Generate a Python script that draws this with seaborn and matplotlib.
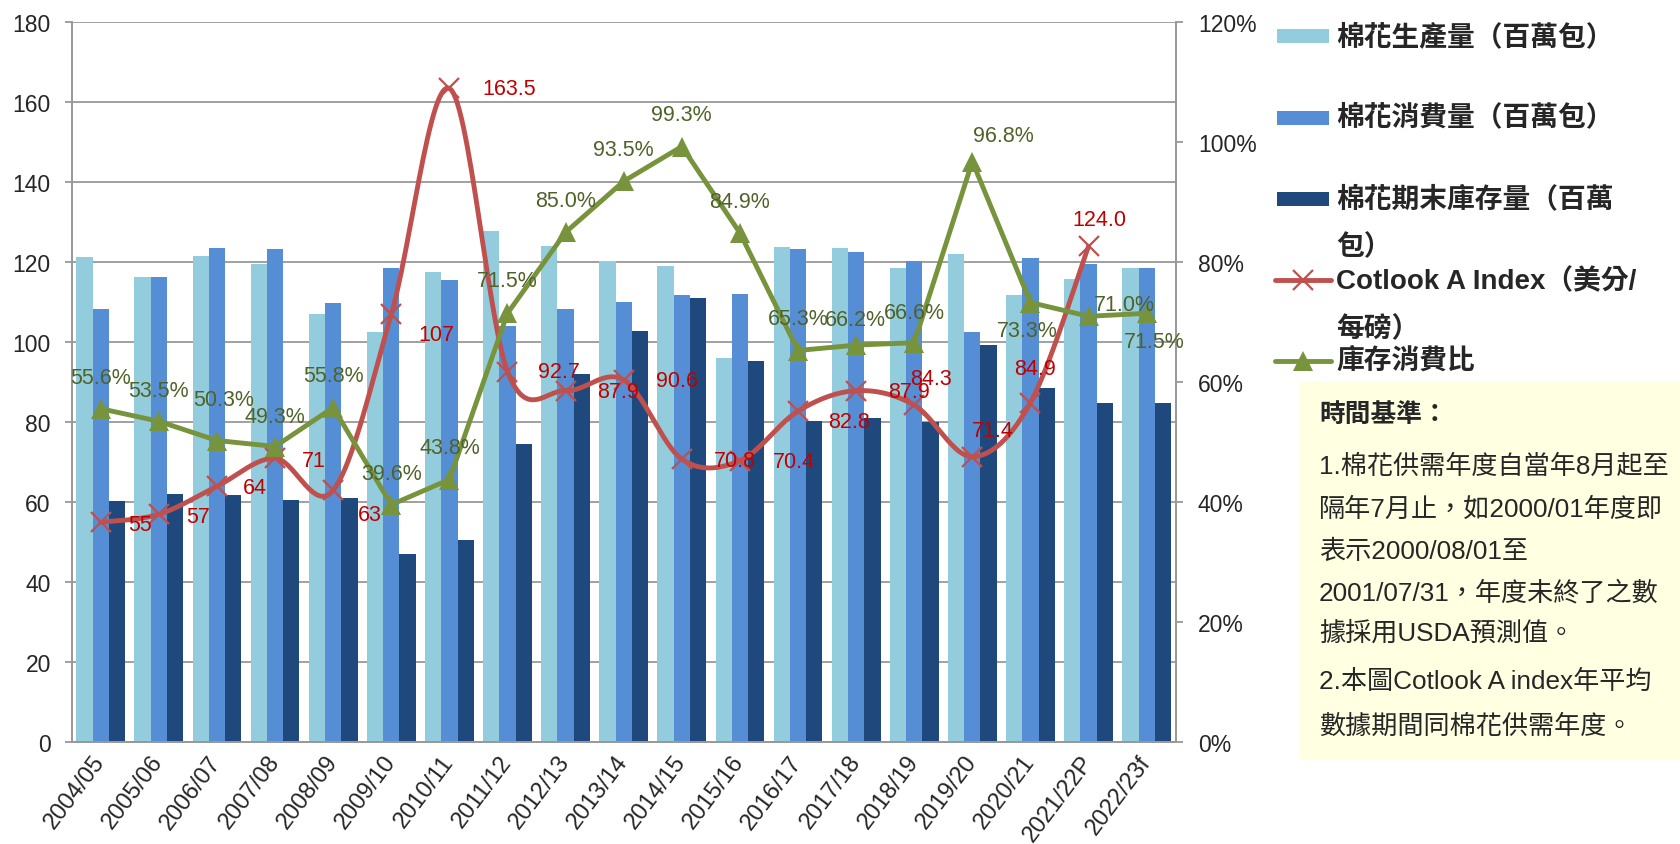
import numpy as np
import pandas as pd
import matplotlib
matplotlib.use("Agg")
import matplotlib.pyplot as plt
from matplotlib.patches import Rectangle
from matplotlib.lines import Line2D
from matplotlib.transforms import ScaledTranslation
import seaborn as sns

# ---- data ----
seasons = ["2004/05", "2005/06", "2006/07", "2007/08", "2008/09", "2009/10",
           "2010/11", "2011/12", "2012/13", "2013/14", "2014/15", "2015/16",
           "2016/17", "2017/18", "2018/19", "2019/20", "2020/21", "2021/22P",
           "2022/23f"]
production = [121.3, 116.4, 121.6, 119.5, 107.0, 102.5, 117.6, 127.8, 124.0, 120.4,
              119.2, 96.1, 123.8, 123.7, 118.7, 122.2, 111.9, 115.9, 118.6]
consumption = [108.4, 116.4, 123.6, 123.4, 109.8, 118.7, 115.5, 104.2, 108.3, 110.0,
               111.8, 112.2, 123.4, 122.7, 120.3, 102.6, 121.1, 119.5, 118.7]
ending_stock = [60.4, 62.2, 61.9, 60.7, 61.2, 47.0, 50.5, 74.5, 92.0, 102.8,
                111.0, 95.3, 80.3, 81.1, 80.0, 99.4, 88.7, 84.8, 84.8]
cotlook = [55, 57, 64, 71, 63, 107, 163.5, 92.7, 87.9, 90.6, 70.8, 70.4,
           82.8, 87.9, 84.3, 71.4, 84.9, 124.0]
stock_ratio = [55.6, 53.5, 50.3, 49.3, 55.8, 39.6, 43.8, 71.5, 85.0, 93.5,
               99.3, 84.9, 65.3, 66.2, 66.6, 96.8, 73.3, 71.0, 71.5]

bar_names = ["棉花生產量（百萬包）", "棉花消費量（百萬包）", "棉花期末庫存量（百萬包）"]
note_title = "時間基準："
note_lines = ["1.棉花供需年度自當年8月起至",
              "隔年7月止，如2000/01年度即",
              "表示2000/08/01至",
              "2001/07/31，年度未終了之數",
              "據採用USDA預測值。",
              "2.本圖Cotlook A index年平均",
              "數據期間同棉花供需年度。"]

# label placement (pixels from marker)
red_offsets = [(27, -2), (27, -2), (26, -1), (27, -2), (25, -24), (27, -20), (33, 0),
               (31, 0), (32, -1), (32, -1), (32, -1), (33, -1), (30, -10), (32, -1),
               (-4, 27), (0, 26), (-16, 34), (-16, 27)]
green_offsets = [(0, 31), (0, 31), (7, 41), (0, 30), (0, 32), (0, 31), (0, 32), (0, 33),
                 (0, 32), (0, 32), (0, 32), (0, 31), (0, 32), (-1, 26), (0, 30),
                 (31, 26), (-3, -28), (36, 12), (8, -28)]

c_prod, c_cons, c_stock = "#93CDDD", "#558ED5", "#1F497D"
c_red, c_red_txt = "#C0504D", "#C00000"
c_green, c_green_txt = "#77933C", "#4F6228"
gray = "#999999"

sns.set_style("white")
plt.rcParams["font.family"] = ["Liberation Sans", "Noto Sans CJK TC", "DejaVu Sans"]


def smooth(xs, ys, n=30):
    # Catmull-Rom style bezier, like spreadsheet "smoothed line"
    xs = np.asarray(xs, float)
    ys = np.asarray(ys, float)
    px = np.concatenate([[xs[0]], xs, [xs[-1]]])
    py = np.concatenate([[ys[0]], ys, [ys[-1]]])
    outx, outy = [], []
    t = np.linspace(0, 1, n)
    for k in range(1, len(px) - 2):
        p0 = np.array([px[k], py[k]])
        p3 = np.array([px[k + 1], py[k + 1]])
        c1 = p0 + (p3 - np.array([px[k - 1], py[k - 1]])) / 6
        c2 = p3 - (np.array([px[k + 2], py[k + 2]]) - p0) / 6
        b = ((1 - t) ** 3)[:, None] * p0 + (3 * (1 - t) ** 2 * t)[:, None] * c1 \
            + (3 * (1 - t) * t ** 2)[:, None] * c2 + (t ** 3)[:, None] * p3
        outx.extend(b[:, 0])
        outy.extend(b[:, 1])
    return np.array(outx), np.array(outy)


W, H = 1681, 845
fig = plt.figure(figsize=(W / 100, H / 100), dpi=100)
x0, x1, y0, y1 = 71.7, 1175.7, 23.3, 743.3
ax = fig.add_axes([x0 / W, 1 - y1 / H, (x1 - x0) / W, (y1 - y0) / H])

df = pd.DataFrame({"season": seasons * 3,
                   "value": production + consumption + ending_stock,
                   "series": [bar_names[0]] * len(seasons) + [bar_names[1]] * len(seasons)
                             + [bar_names[2]] * len(seasons)})
sns.barplot(data=df, x="season", y="value", hue="series", hue_order=bar_names,
            palette=[c_prod, c_cons, c_stock], width=0.84, gap=0, saturation=1,
            errorbar=None, legend=False, linewidth=0, ax=ax)
ax.set_xlabel("")
ax.set_ylabel("")
ax.set_ylim(0, 180)
ax.set_yticks(range(0, 181, 20))
ax.set_xlim(-0.5, len(seasons) - 0.5)
ax.yaxis.grid(True, color=gray, lw=1.3)
ax.set_axisbelow(True)

xpos = np.arange(len(seasons))
ax.set_xticks(xpos)
ax.set_xticklabels(seasons, rotation=53, ha="right", va="center", rotation_mode="anchor")
shift = ScaledTranslation(-7 / 100, 0, fig.dpi_scale_trans)
for lab in ax.get_xticklabels():
    lab.set_transform(lab.get_transform() + shift)
ax.set_xticks(np.arange(-0.5, len(seasons), 1), minor=True)
ax.tick_params(axis="x", which="major", length=0, pad=11, labelsize=17)
ax.tick_params(axis="x", which="minor", length=4, width=1.3, color=gray)
ax.tick_params(axis="y", length=5, width=1.3, color=gray, pad=10, labelsize=16.5)
for s in ["left", "bottom", "right"]:
    ax.spines[s].set_color(gray)
    ax.spines[s].set_linewidth(1.3)
ax.spines["top"].set_visible(False)

# Cotlook A index, smoothed line on the left axis
cx = xpos[:len(cotlook)]
sx, sy = smooth(cx, cotlook)
ax.plot(sx, sy, color=c_red, lw=3.5, solid_capstyle="round", zorder=3)
ax.plot(cx, cotlook, ls="none", marker="x", ms=14, mew=1.6, color=c_red, zorder=4)
for xi, v, (dx, dy) in zip(cx, cotlook, red_offsets):
    ax.annotate(str(v), (xi, v), xytext=(dx, dy), textcoords="offset pixels",
                ha="left", va="center", fontsize=15.5, color=c_red_txt, zorder=5)

# stock / consumption ratio on the right axis
ax2 = ax.twinx()
sns.lineplot(x=xpos, y=stock_ratio, ax=ax2, color=c_green, lw=3.5, marker="^",
             markersize=14, markeredgecolor=c_green, markeredgewidth=0, legend=False)
ax2.set_ylim(0, 120)
ax2.set_yticks(range(0, 121, 20))
ax2.set_yticklabels([f"{t}%" for t in range(0, 121, 20)])
ax2.tick_params(axis="y", length=5, width=1.3, color=gray, pad=11, labelsize=16.5)
ax2.set_xlim(-0.5, len(seasons) - 0.5)
for s in ["left", "bottom", "right"]:
    ax2.spines[s].set_color(gray)
    ax2.spines[s].set_linewidth(1.3)
ax2.spines["top"].set_visible(False)
for xi, v, (dx, dy) in zip(xpos, stock_ratio, green_offsets):
    ax2.annotate(f"{v:.1f}%", (xi, v), xytext=(dx, dy), textcoords="offset pixels",
                 ha="center", va="center", fontsize=15.5, color=c_green_txt)

# legend and note box drawn in pixel space
ov = fig.add_axes([0, 0, 1, 1])
ov.set_xlim(0, W)
ov.set_ylim(H, 0)
ov.axis("off")

lx0, lx1, tx = 1277, 1329, 1336
for yc, col in zip([37, 119, 200], [c_prod, c_cons, c_stock]):
    ov.add_patch(Rectangle((lx0, yc - 7), lx1 - lx0, 14, color=col, lw=0))
ov.add_line(Line2D([1275, 1331], [281, 281], color=c_red, lw=3.5))
ov.plot([1303], [281], marker="x", ms=14, mew=1.6, color=c_red)
ov.add_line(Line2D([1275, 1331], [362, 362], color=c_green, lw=3.5))
ov.plot([1303], [362], marker="^", ms=14, mew=0, color=c_green)

legend_rows = [(38, bar_names[0]), (118, bar_names[1]), (200, "棉花期末庫存量（百萬"),
               (248, "包）"), (282, "Cotlook A Index（美分/"), (330, "每磅）"),
               (362, "庫存消費比")]
for yc, t in legend_rows:
    ov.text(tx, yc, t, fontsize=20, fontweight="bold", ha="left", va="center")

ov.add_patch(Rectangle((1299, 382), W - 1299, 379, color="#FFFFE1", lw=0))
ov.text(1319, 415, note_title, fontsize=18.5, fontweight="bold", ha="left", va="center")
for yc, t in zip([467, 510, 552, 593, 633, 682, 727], note_lines):
    ov.text(1319, yc, t, fontsize=18.8, ha="left", va="center")

fig.savefig("out.png", dpi=100)
